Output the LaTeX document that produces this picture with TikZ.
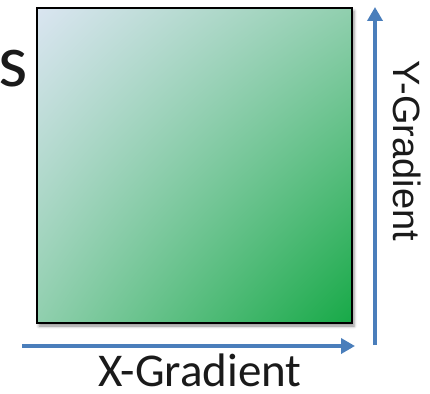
\documentclass[tikz,border=0pt]{standalone}
\usepackage{fontspec}
\setmainfont{Carlito}
\newfontfamily\arialfont{Liberation Sans}
\usetikzlibrary{arrows.meta,shadows.blur,shadings}
\definecolor{tl}{HTML}{DAE5F1}
\definecolor{br}{HTML}{17A947}
\definecolor{mid}{HTML}{90CFAE}
\definecolor{arrowblue}{HTML}{4A7EBB}
\definecolor{txt}{HTML}{1A1A1A}
\tikzset{
  gradbox/.style={draw=black, line width=2pt, inner sep=0pt,
    minimum width=315pt, minimum height=315pt, shade,
    upper left=tl, lower right=br, upper right=mid, lower left=mid,
    blur shadow={shadow xshift=2pt, shadow yshift=-3pt, shadow blur radius=3pt, shadow opacity=45}},
  gradarrow/.style={draw=arrowblue, line width=4pt, -{Triangle[length=14pt,width=15pt]}},
  lbl/.style={inner sep=0pt, text=txt}
}
\begin{document}
\begin{tikzpicture}[x=1pt,y=-1pt]
\useasboundingbox (0,0) rectangle (430,393);
\node[gradbox] (sq) at (194.5,165.5) {};
\coordinate (xs) at (22,346);
\coordinate (xe) at (355,346);
\coordinate (ys) at (375,345);
\coordinate (ye) at (375,7);
\draw[gradarrow] (xs) -- (xe);
\draw[gradarrow] (ys) -- (ye);
\node[lbl, anchor=base, font=\fontsize{47}{54}\selectfont] (xl) at (200,386) {X-Gradient};
\node[lbl, rotate=-90, font=\arialfont\fontsize{38}{44}\selectfont] (yl) at (407,151) {Y-Gradient};
\node[lbl, anchor=base east, font=\fontsize{75}{80}\selectfont] (s) at (28,87) {s};
\end{tikzpicture}
\end{document}
